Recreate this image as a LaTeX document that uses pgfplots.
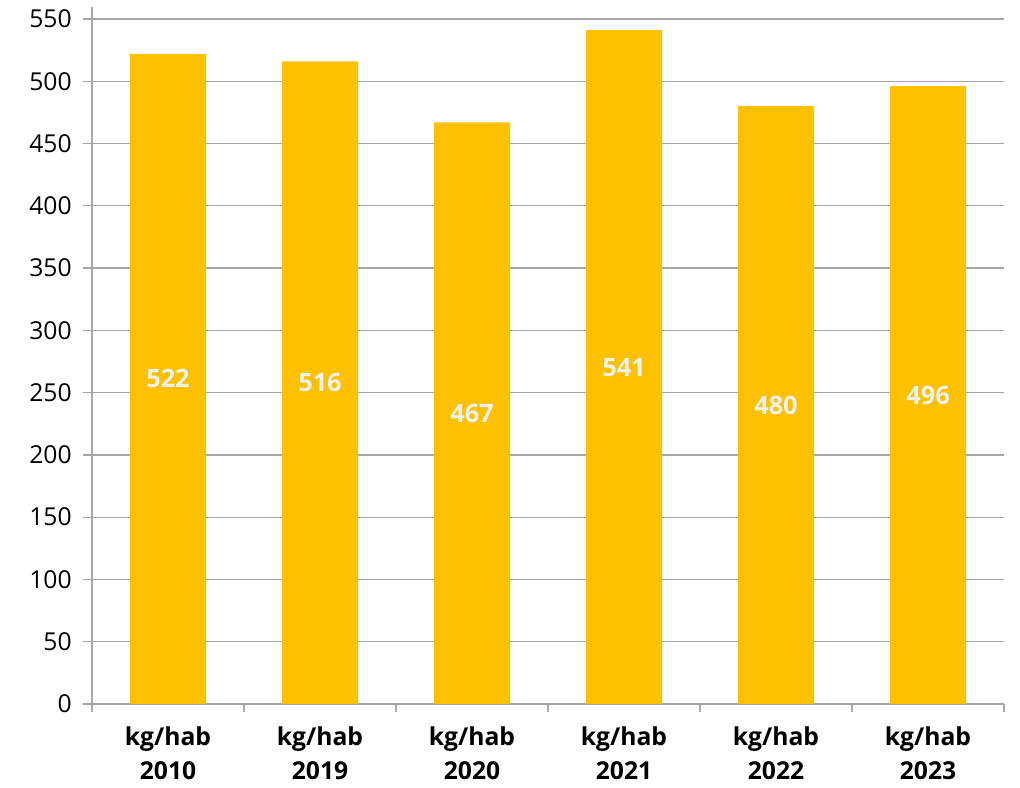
\documentclass[border=0pt]{standalone}
\usepackage{pgfplots}
\pgfplotsset{compat=1.18}
\usepackage{pgfplotstable}
\usepackage{fontspec}
\setmainfont{Open Sans}

\definecolor{baryellow}{HTML}{FFC000}
\definecolor{gridgray}{HTML}{A6A6A6}
\definecolor{labelwhite}{HTML}{F2F2F2}

% waste per inhabitant, kg
\pgfplotstableread{
idx value
0 522
1 516
2 467
3 541
4 480
5 496
}\wastetable

\begin{document}
\begin{tikzpicture}
\useasboundingbox (-69pt,-63pt) rectangle (696pt,528pt);
\begin{axis}[
  at={(0,0)}, anchor=south west,
  scale only axis, width=684pt, height=523.1pt,
  xmin=-0.5, xmax=5.5, ymin=0, ymax=560,
  axis lines*=left,
  axis line style={gridgray, line width=1pt},
  ytick={0,50,...,550},
  ymajorgrids,
  grid style={gridgray, line width=1pt},
  tick style={gridgray, line width=1pt},
  tick align=outside,
  major tick length=6.75pt,
  minor tick length=6pt,
  xtick={0,...,5},
  major x tick style={draw=none},
  minor xtick={-0.5,0.5,...,5.5},
  xticklabels={{kg/hab\\2010},{kg/hab\\2019},{kg/hab\\2020},{kg/hab\\2021},{kg/hab\\2022},{kg/hab\\2023}},
  xticklabel style={align=center, inner sep=0pt, font=\bfseries\fontsize{18.5}{25.5}\selectfont, text=black, yshift=-10pt},
  yticklabel style={font=\fontsize{18.5}{22}\selectfont, text=black, xshift=-5pt},
  /pgf/number format/assume math mode=true,
]
\addplot[ybar, bar width=0.5, fill=baryellow, draw=none]
  table[x=idx, y=value]{\wastetable};
\addplot[draw=none, mark=none, nodes near coords, point meta=explicit,
  every node near coord/.append style={anchor=center, text=labelwhite,
    font=\bfseries\fontsize{19}{22}\selectfont}]
  table[x=idx, y expr=\thisrow{value}/2, meta=value]{\wastetable};
\end{axis}
\end{tikzpicture}
\end{document}
